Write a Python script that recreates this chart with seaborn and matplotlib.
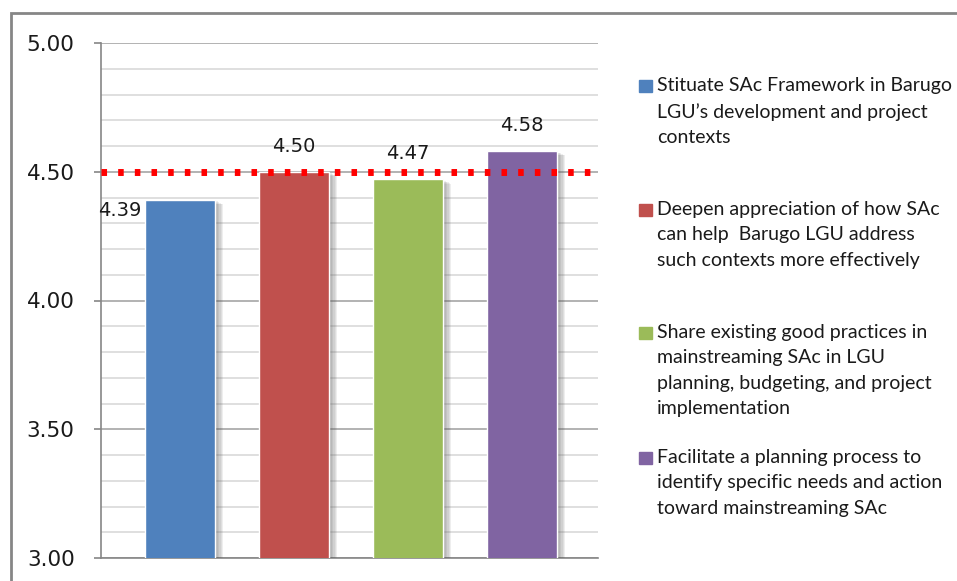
import seaborn as sns
import matplotlib.pyplot as plt
import matplotlib.patheffects as pe
from matplotlib.patches import Rectangle
from matplotlib.ticker import MultipleLocator
import pandas as pd

# objectives and their mean ratings
objectives = [
    "Stituate SAc Framework in Barugo\nLGU\u2019s development and project\ncontexts",
    "Deepen appreciation of how SAc\ncan help  Barugo LGU address\nsuch contexts more effectively",
    "Share existing good practices in\nmainstreaming SAc in LGU\nplanning, budgeting, and project\nimplementation",
    "Facilitate a planning process to\nidentify specific needs and action\ntoward mainstreaming SAc",
]
ratings = [4.39, 4.50, 4.47, 4.58]
bar_labels = ["4.39", "4.50", "4.47", "4.58"]
target = 4.50
colors = ["#4f81bd", "#c0504d", "#9bbb59", "#8064a2"]

df = pd.DataFrame({"objective": objectives, "rating": ratings})

sns.set_style("white")
W, H = 957, 581
fig = plt.figure(figsize=(W / 100, H / 100), dpi=100)
ax = fig.add_axes([101 / W, 1 - 558 / H, (598 - 101) / W, (558 - 43) / H])

sns.barplot(data=df, x="objective", y="rating", hue="objective", palette=colors,
            legend=False, width=0.614, ax=ax, saturation=1, zorder=3)
# soft shadow on the right of each bar
shadow = [pe.SimplePatchShadow(offset=(k, -k / 2), shadow_rgbFace="#595959", alpha=0.1)
          for k in range(6, 0, -1)]
for p in ax.patches:
    p.set_path_effects(shadow + [pe.Normal()])

ax.set_ylim(3.0, 5.0)
ax.set_xlim(-0.693, 3.667)
ax.yaxis.set_major_locator(MultipleLocator(0.5))
ax.yaxis.set_minor_locator(MultipleLocator(0.1))
ax.yaxis.set_major_formatter(lambda v, pos: f"{v:.2f}")
ax.grid(axis="y", which="minor", color="#d9d9d9", lw=1.2, zorder=0)
ax.grid(axis="y", which="major", color="#a6a6a6", lw=1.2, zorder=0)
ax.set_axisbelow(True)
ax.tick_params(axis="y", which="major", direction="out", length=5, width=1.2, color="#868686",
               labelsize=15.5, pad=14, left=True, labelcolor="#1a1a1a")
ax.tick_params(axis="y", which="minor", length=0)
ax.tick_params(axis="x", bottom=False, labelbottom=False)
ax.set_xlabel("")
ax.set_ylabel("")
for side in ["top", "right"]:
    ax.spines[side].set_visible(False)
for side in ["left", "bottom"]:
    ax.spines[side].set_color("#868686")
    ax.spines[side].set_linewidth(1.2)

# target line
ax.axhline(target, color="#ff0000", lw=5, ls=(0, (0.8, 1.6)), dash_capstyle="butt", zorder=5)

# value labels
offsets = [(-60, -1), (0, 16), (0, 16), (0, 16)]
for i, (v, t) in enumerate(zip(ratings, bar_labels)):
    ax.annotate(t, (i, v), xytext=offsets[i], textcoords="offset pixels",
                ha="center", va="bottom" if i else "top", fontsize=14, color="#1a1a1a", zorder=6)

# legend drawn on the right
leg_y = [86, 210, 333, 458]
for txt, c, y in zip(objectives, colors, leg_y):
    fig.patches.append(Rectangle((639 / W, 1 - (y + 6) / H), 13 / W, 12 / H,
                                 transform=fig.transFigure, color=c))
    fig.text(657 / W, 1 - (y - 9) / H, txt, ha="left", va="top", fontsize=14,
             family="Lato", linespacing=1.6, color="#1a1a1a")

# outer frame
fig.patches.append(Rectangle((11 / W, -0.1), 1.2, 1 - 13 / H + 0.1, transform=fig.transFigure,
                             fill=False, edgecolor="#868686", lw=2))

fig.savefig("out.png", dpi=100)
